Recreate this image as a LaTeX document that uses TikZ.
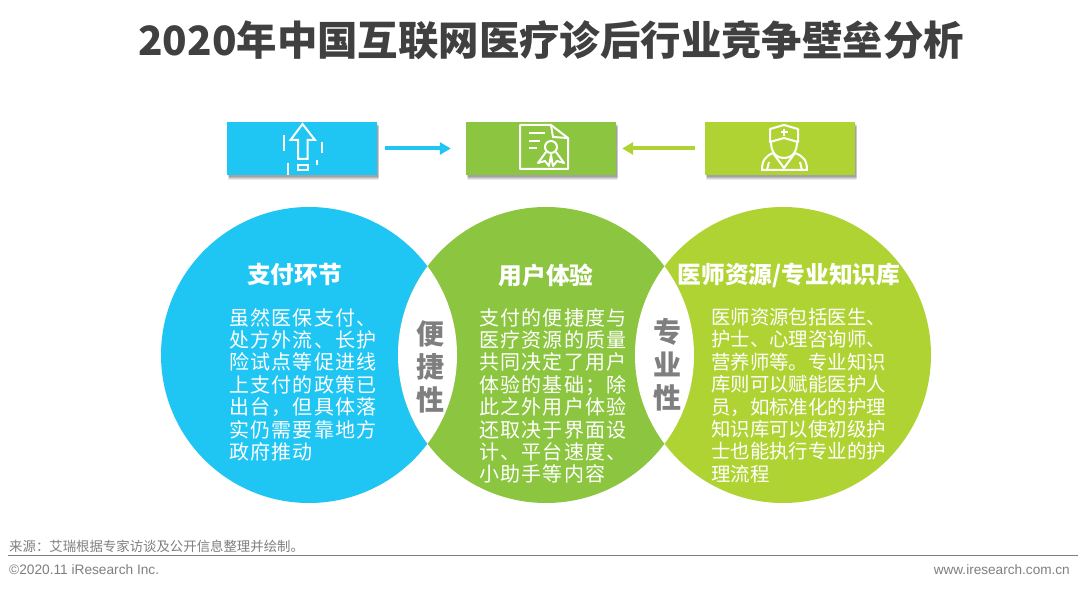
\documentclass[tikz,border=0pt]{standalone}
\usepackage{fontspec}
\usetikzlibrary{arrows.meta,shadows}
\setmainfont{Noto Sans CJK SC}
\newfontfamily\latinfont{Liberation Sans}
\newfontfamily\widefont[LetterSpace=6]{Noto Sans CJK SC}
\definecolor{payblue}{RGB}{31,197,243}
\definecolor{usergreen}{RGB}{140,197,63}
\definecolor{doclime}{RGB}{176,211,52}
\definecolor{titlegray}{RGB}{64,64,64}
\definecolor{sidegray}{RGB}{127,127,127}
\tikzset{
  iconbox/.style={minimum width=150pt,minimum height=53pt,inner sep=0pt,
    drop shadow={shadow xshift=1pt,shadow yshift=-5pt,opacity=.08,fill=black},
    drop shadow={shadow xshift=2pt,shadow yshift=-4pt,opacity=.10,fill=black},
    drop shadow={shadow xshift=2pt,shadow yshift=-3pt,opacity=.12,fill=black},
    drop shadow={shadow xshift=1pt,shadow yshift=-2pt,opacity=.12,fill=black}},
  icon/.style={draw=white,line width=2pt},
  heading/.style={text=white,font=\fontsize{23.7}{26}\selectfont\bfseries},
  bodytext/.style={text=white,align=left,anchor=north west,inner sep=0pt,
    font=\fontsize{20}{22.4}\selectfont\widefont},
  sidetext/.style={text=sidegray,align=center,inner sep=0pt,
    font=\fontsize{28}{33}\selectfont\bfseries},
  link/.style={line width=4pt,-{Triangle[length=11pt,width=12pt]}},
}
\begin{document}
\begin{tikzpicture}[x=1pt,y=-1pt]
  \useasboundingbox (0,0) rectangle (1080,591);
  \fill[white] (0,0) rectangle (1080,591);
  \node[text=titlegray,font=\fontsize{40.4}{46}\selectfont\bfseries] (title) at (551,40) {2020年中国互联网医疗诊后行业竞争壁垒分析};

  % top row
  \node[iconbox,fill=payblue] (paybox) at (302,148.5) {};
  \node[iconbox,fill=usergreen] (userbox) at (541,148.5) {};
  \node[iconbox,fill=doclime] (docbox) at (780,148.5) {};
  \draw[link,payblue,shorten <=8pt,shorten >=15pt] (paybox.east)--(userbox.west);
  \draw[link,doclime,shorten <=10pt,shorten >=6pt] (docbox.west)--(userbox.east);

  % upload icon
  \draw[icon,line join=miter] (298,159)--(298,140)--(290.5,140)--(302.5,124)--(315,140)--(307.5,140)--(307.5,159)--cycle;
  \draw[icon] (298,165) rectangle (308,170);
  \draw[icon] (284,135)--(284,151) (322,142)--(322,153) (288,163)--(288,175) (317,160)--(317,165);

  % certificate icon
  \draw[icon,line join=round] (551,125)--(520,125)--(520,169)--(568,169)--(568,138)--cycle;
  \draw[icon] (551,125)--(553,137)--(568,138);
  \draw[icon] (529,133)--(545,133) (529,141)--(540,141) (529,148)--(537,148);
  \draw[icon] (551,147) circle (6pt);
  \draw[icon,line join=round] (546,152)--(538,163)--(545,161)--(549,166)--(551,155)--(553,166)--(557,161)--(564,163)--(556,152);

  % doctor icon
  \draw[icon,line join=round] (770,142)--(770,129)--(784,125)--(798,129)--(798,142)--(784,138)--cycle;
  \draw[icon] (784,129)--(784,136) (780.5,132.5)--(787.5,132.5);
  \draw[icon] (771,142) .. controls (771,156) and (780,158) .. (784,158) .. controls (788,158) and (797,156) .. (797,142);
  \draw[icon,line join=round] (773,153) .. controls (766,156) and (762,160) .. (762,170)--(807,170) .. controls (807,160) and (803,156) .. (795,153);
  \draw[icon] (773,153)--(784,168)--(795,153);
  \draw[icon] (767,170)--(769,162) (802,170)--(800,162);

  % circles
  \fill[payblue] (309,355) circle (148pt);
  \fill[usergreen] (546,355) circle (148pt);
  \fill[doclime] (783,355) circle (148pt);
  \begin{scope}
    \clip (309,355) circle (148pt);
    \fill[white] (546,355) circle (148pt);
  \end{scope}
  \begin{scope}
    \clip (546,355) circle (148pt);
    \fill[white] (783,355) circle (148pt);
  \end{scope}

  % left
  \node[heading] (payhead) at (294.5,275) {支付环节};
  \node[bodytext] (paytext) at (229,308) {虽然医保支付、\\处方外流、长护\\险试点等促进线\\上支付的政策已\\出台，但具体落\\实仍需要靠地方\\政府推动};
  \node[sidetext] (easeword) at (430,366.5) {便\\捷\\性};

  % middle
  \node[heading] (userhead) at (546,275) {用户体验};
  \node[bodytext] (usertext) at (479,308) {支付的便捷度与\\医疗资源的质量\\共同决定了用户\\体验的基础；除\\此之外用户体验\\还取决于界面设\\计、平台速度、\\小助手等内容};
  \node[sidetext] (proword) at (667.5,365) {专\\业\\性};

  % right
  \node[heading] (dochead) at (789,275) {医师资源/专业知识库};
  \node[bodytext,font=\fontsize{19.4}{22.4}\selectfont] (doctext) at (711,308) {医师资源包括医生、\\护士、心理咨询师、\\营养师等。专业知识\\库则可以赋能医护人\\员，如标准化的护理\\知识库可以使初级护\\士也能执行专业的护\\理流程};

  % footer
  \node[anchor=west,inner sep=0pt,text=sidegray,font=\fontsize{13.4}{15}\selectfont] (source) at (9,546) {来源：艾瑞根据专家访谈及公开信息整理并绘制。};
  \coordinate (ruleleft) at (8,555.5);
  \coordinate (ruleright) at (1078,555.5);
  \draw[sidegray,line width=1.8pt] (ruleleft)--(ruleright);
  \node[anchor=west,inner sep=0pt,text=sidegray,font=\fontsize{13.7}{15}\selectfont\latinfont] (copyright) at (9,570) {©2020.11 iResearch Inc.};
  \node[anchor=east,inner sep=0pt,text=sidegray,font=\fontsize{13.6}{15}\selectfont\latinfont] (website) at (1070,570) {www.iresearch.com.cn};
\end{tikzpicture}
\end{document}
